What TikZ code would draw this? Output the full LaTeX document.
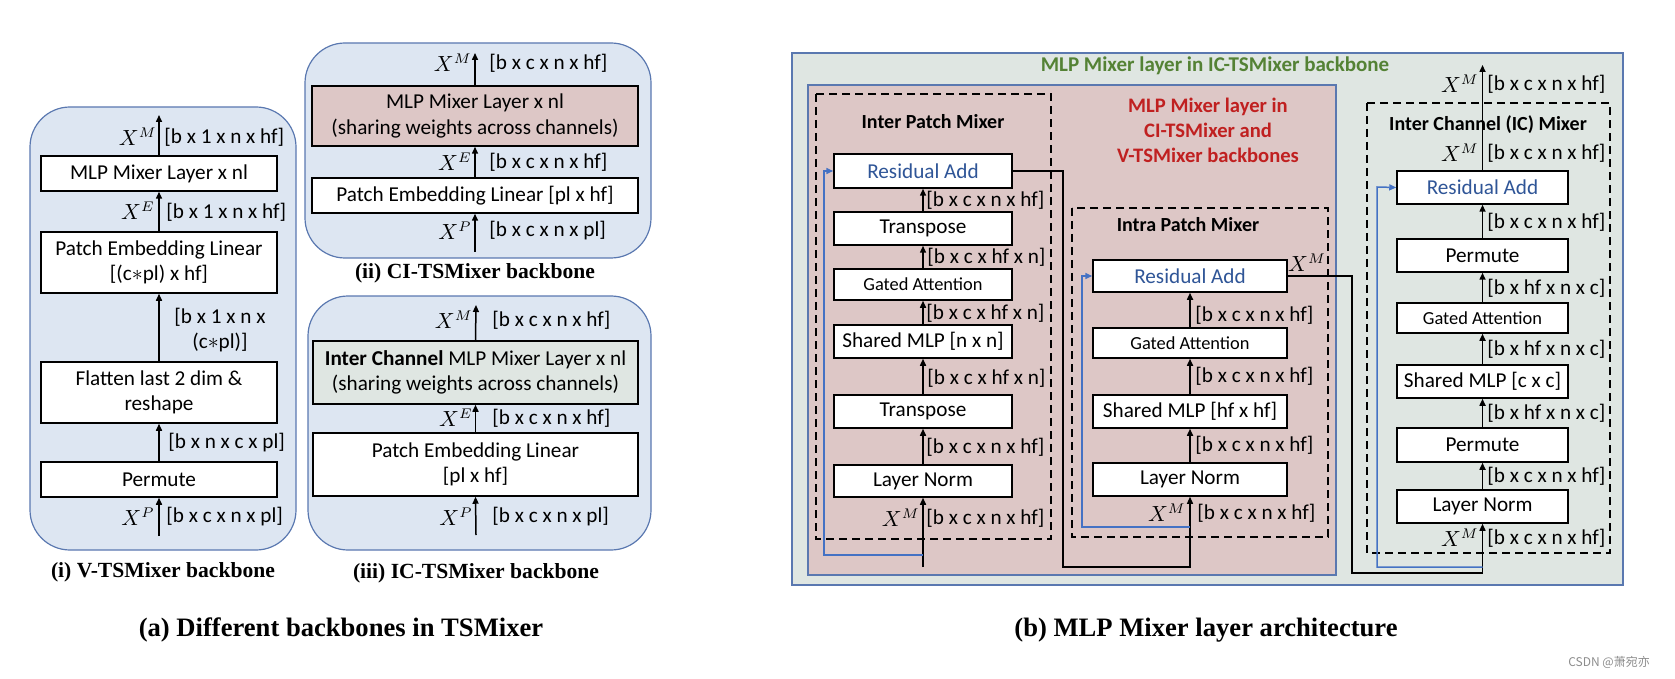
\documentclass[tikz,border=0pt]{standalone}
\usepackage{fontspec}
\setmainfont{Carlito}
\newfontfamily\capfont{Liberation Serif}
\newfontfamily\cjkfont{Noto Sans CJK SC}
\usetikzlibrary{arrows.meta,calc}
\definecolor{panelblue}{RGB}{221,230,242}
\definecolor{panelline}{RGB}{90,120,176}
\definecolor{pinkfill}{RGB}{221,199,198}
\definecolor{greenfill}{RGB}{223,230,226}
\definecolor{resblue}{RGB}{68,114,196}
\definecolor{restext}{RGB}{47,85,151}
\definecolor{redtext}{RGB}{192,32,32}
\definecolor{greentext}{RGB}{84,130,53}
\newcommand{\bx}[7][]{\node[box,#1,minimum width={(#5-#3)*0.5pt},minimum height={(#6-#4)*0.5pt}] (#2) at ({(#3+#5)/2},{(#4+#6)/2}) {#7};}
\begin{document}
\begin{tikzpicture}[x=0.5pt,y=-0.5pt,
  box/.style={draw=black,line width=0.75pt,fill=white,inner sep=0pt,align=center,font=\fontsize{10.6}{12.8}\selectfont},
  gsmall/.style={font=\fontsize{9.2}{11}\selectfont},
  lbl/.style={inner sep=0pt,font=\fontsize{10.6}{12.8}\selectfont},
  mlbl/.style={inner sep=0pt,font=\fontsize{10.6}{12.8}\selectfont},
  capstyle/.style={inner sep=0pt,font=\capfont\bfseries\fontsize{10.8}{13}\selectfont},
  bigcap/.style={inner sep=0pt,font=\capfont\bfseries\fontsize{13.3}{16}\selectfont},
  ttl/.style={inner sep=0pt,font=\bfseries\fontsize{10}{12}\selectfont},
  panel/.style={draw=panelline,line width=0.6pt,fill=panelblue,rounded corners=20pt},
  dashbox/.style={draw=black,line width=0.75pt,dash pattern=on 4pt off 2.5pt},
  arr/.style={line width=0.75pt,-{Triangle[length=3.5pt,width=3pt]}},
  resarr/.style={draw=resblue,line width=0.75pt,-{Triangle[length=3.5pt,width=3pt]}},
  link/.style={line width=0.65pt,-{Triangle[length=3.5pt,width=3pt]}}
]
\useasboundingbox (0,0) rectangle (1675,679);

% ---------------- (i) V-TSMixer ----------------
\draw[panel] (30,107) rectangle (296,550);
\bx{mlp1}{41}{156}{277}{191}{MLP Mixer Layer x nl}
\bx{pe1}{41}{232}{277}{293}{Patch Embedding Linear\\{}[(c$\ast$pl) x hf]}
\bx{flat1}{41}{362}{277}{423}{Flatten last 2 dim \&\\reshape}
\bx{perm1}{41}{462}{277}{497}{Permute}
\coordinate (out1) at (159,115);
\coordinate (in1) at (159,536);
\draw[arr] (mlp1.north) -- (out1);
\draw[arr] (pe1.north) -- (mlp1.south);
\draw[arr] (flat1.north) -- (pe1.south);
\draw[arr] (perm1.north) -- (flat1.south);
\draw[arr] (in1) -- (perm1.south);
\node[mlbl,anchor=east] (m1a) at (157,137) {$X^M$};
\node[lbl,anchor=west] (l1a) at (164,137) {[b x 1 x n x hf]};
\node[mlbl,anchor=east] (m1b) at (155,211) {$X^E$};
\node[lbl,anchor=west] (l1b) at (166,212) {[b x 1 x n x hf]};
\node[lbl,align=center] (l1c) at (220,330) {[b x 1 x n x\\(c$\ast$pl)]};
\node[lbl,anchor=west] (l1d) at (168,443) {[b x n x c x pl]};
\node[mlbl,anchor=east] (m1e) at (155,517) {$X^P$};
\node[lbl,anchor=west] (l1e) at (166,517) {[b x c x n x pl]};
\node[capstyle] (capi) at (163,572) {(i) V-TSMixer backbone};

% ---------------- (ii) CI-TSMixer ----------------
\draw[panel] (305,43) rectangle (651,258);
\bx[fill=pinkfill]{mlp2}{312}{86}{638}{146}{MLP Mixer Layer x nl\\(sharing weights across channels)}
\bx{pe2}{312}{178}{638}{213}{Patch Embedding Linear [pl x hf]}
\coordinate (out2) at (475,53);
\coordinate (in2) at (475,252);
\draw[arr] (mlp2.north) -- (out2);
\draw[arr] (pe2.north) -- (mlp2.south);
\draw[arr] (in2) -- (pe2.south);
\node[mlbl,anchor=east] (m2a) at (472,63) {$X^M$};
\node[lbl,anchor=west] (l2a) at (489,63) {[b x c x n x hf]};
\node[mlbl,anchor=east] (m2b) at (472,162) {$X^E$};
\node[lbl,anchor=west] (l2b) at (489,162) {[b x c x n x hf]};
\node[mlbl,anchor=east] (m2c) at (472,231) {$X^P$};
\node[lbl,anchor=west] (l2c) at (489,231) {[b x c x n x pl]};
\node[capstyle] (capii) at (475,273) {(ii) CI-TSMixer backbone};

% ---------------- (iii) IC-TSMixer ----------------
\draw[panel] (308,296) rectangle (651,550);
\bx[fill=greenfill]{ic3}{313}{341}{638}{404}{\textbf{Inter Channel} MLP Mixer Layer x nl\\(sharing weights across channels)}
\bx{pe3}{313}{433}{638}{496}{Patch Embedding Linear\\{}[pl x hf]}
\coordinate (out3) at (476,305);
\coordinate (in3) at (476,535);
\draw[arr] (ic3.north) -- (out3);
\draw[arr] (pe3.north) -- (ic3.south);
\draw[arr] (in3) -- (pe3.south);
\node[mlbl,anchor=east] (m3a) at (473,320) {$X^M$};
\node[lbl,anchor=west] (l3a) at (492,320) {[b x c x n x hf]};
\node[mlbl,anchor=east] (m3b) at (473,418) {$X^E$};
\node[lbl,anchor=west] (l3b) at (492,418) {[b x c x n x hf]};
\node[mlbl,anchor=east] (m3c) at (473,517) {$X^P$};
\node[lbl,anchor=west] (l3c) at (492,517) {[b x c x n x pl]};
\node[capstyle] (capiii) at (476,573) {(iii) IC-TSMixer backbone};

% ---------------- (b) MLP Mixer layer ----------------
\draw[draw=panelline,line width=0.6pt,fill=greenfill] (792,53) rectangle (1623,585);
\node[ttl,text=greentext,font=\bfseries\fontsize{10.5}{12}\selectfont] (tgreen) at (1215,66) {MLP Mixer layer in IC-TSMixer backbone};
\draw[draw=panelline,line width=0.6pt,fill=pinkfill] (808,85) rectangle (1336,575);
\node[ttl,text=redtext,align=center,font=\bfseries\fontsize{10.3}{12.5}\selectfont] (tred) at (1208,130) {MLP Mixer layer in\\CI-TSMixer and\\V-TSMixer backbones};

% Inter Patch Mixer
\draw[dashbox] (816,94) rectangle (1051,539);
\node[ttl] (tinter) at (933,122) {Inter Patch Mixer};
\bx[text=restext]{ra1}{834}{154}{1012}{188}{Residual Add}
\bx{tr1}{834}{212}{1012}{245}{Transpose}
\bx[gsmall]{ga1}{834}{269}{1012}{300}{Gated Attention}
\bx{sm1}{834}{325}{1012}{358}{Shared MLP [n x n]}
\bx{tr2}{834}{395}{1012}{428}{Transpose}
\bx{ln1}{834}{465}{1012}{497}{Layer Norm}
\draw[arr] (tr1.north) -- (ra1.south);
\draw[arr] (ga1.north) -- (tr1.south);
\draw[arr] (sm1.north) -- (ga1.south);
\draw[arr] (tr2.north) -- (sm1.south);
\draw[arr] (ln1.north) -- (tr2.south);
\coordinate (inA) at (923,567);
\coordinate (bA) at (923,555);
\coordinate (kA) at (824,171);
\draw[arr] (inA) -- (ln1.south);
\draw[resarr] (bA) -| (kA) -- (ra1.west);
\node[lbl,anchor=west] (lA1) at (926,200) {[b x c x n x hf]};
\node[lbl,anchor=west] (lA2) at (927,257) {[b x c x hf x n]};
\node[lbl,anchor=west] (lA3) at (926,313) {[b x c x hf x n]};
\node[lbl,anchor=west] (lA4) at (927,378) {[b x c x hf x n]};
\node[lbl,anchor=west] (lA5) at (926,447) {[b x c x n x hf]};
\node[mlbl,anchor=east] (mA6) at (920,518) {$X^M$};
\node[lbl,anchor=west] (lA6) at (926,518) {[b x c x n x hf]};

% Intra Patch Mixer
\draw[dashbox] (1072,208) rectangle (1328,537);
\node[ttl] (tintra) at (1188,225) {Intra Patch Mixer};
\bx[text=restext]{ra2}{1093}{260}{1287}{292}{Residual Add}
\bx[gsmall]{ga2}{1093}{328}{1287}{358}{Gated Attention}
\bx{sm2}{1093}{395}{1287}{428}{Shared MLP [hf x hf]}
\bx{ln2}{1093}{463}{1287}{496}{Layer Norm}
\draw[arr] (ga2.north) -- (ra2.south);
\draw[arr] (sm2.north) -- (ga2.south);
\draw[arr] (ln2.north) -- (sm2.south);
\coordinate (c1) at (1063,567);
\draw[link] (ra1.east) -| (c1) -| (ln2.south);
\coordinate (bB) at (1190,527);
\coordinate (kB) at (1082,276);
\draw[resarr] (bB) -| (kB) -- (ra2.west);
\node[mlbl] (mB0) at (1307,263) {$X^M$};
\node[lbl,anchor=west] (lB1) at (1195,315) {[b x c x n x hf]};
\node[lbl,anchor=west] (lB2) at (1195,376) {[b x c x n x hf]};
\node[lbl,anchor=west] (lB3) at (1195,445) {[b x c x n x hf]};
\node[mlbl,anchor=east] (mB4) at (1186,513) {$X^M$};
\node[lbl,anchor=west] (lB4) at (1197,513) {[b x c x n x hf]};

% Inter Channel Mixer
\draw[dashbox] (1367,103) rectangle (1610,553);
\node[ttl] (tic) at (1488,125) {Inter Channel (IC) Mixer};
\bx[text=restext]{ra3}{1397}{171}{1568}{204}{Residual Add}
\bx{pm3}{1397}{239}{1568}{272}{Permute}
\bx[gsmall]{ga3}{1397}{303}{1568}{333}{Gated Attention}
\bx{sm3}{1397}{365}{1568}{398}{Shared MLP [c x c]}
\bx{pm4}{1397}{428}{1568}{462}{Permute}
\bx{ln3}{1397}{490}{1568}{523}{Layer Norm}
\coordinate (outC) at (1482.5,65);
\draw[arr] (ra3.north) -- (outC);
\draw[arr] (pm3.north) -- (ra3.south);
\draw[arr] (ga3.north) -- (pm3.south);
\draw[arr] (sm3.north) -- (ga3.south);
\draw[arr] (pm4.north) -- (sm3.south);
\draw[arr] (ln3.north) -- (pm4.south);
\coordinate (c2) at (1352,573);
\draw[link] (ra2.east) -| (c2) -| (ln3.south);
\coordinate (bC) at (1482.5,567);
\coordinate (kC) at (1377,187);
\draw[resarr] (bC) -| (kC) -- (ra3.west);
\node[mlbl,anchor=east] (mC0) at (1479,84) {$X^M$};
\node[lbl,anchor=west] (lC0) at (1487,84) {[b x c x n x hf]};
\node[mlbl,anchor=east] (mC1) at (1479,153) {$X^M$};
\node[lbl,anchor=west] (lC1) at (1487,153) {[b x c x n x hf]};
\node[lbl,anchor=west] (lC2) at (1487,222) {[b x c x n x hf]};
\node[lbl,anchor=west] (lC3) at (1487,288) {[b x hf x n x c]};
\node[lbl,anchor=west] (lC4) at (1487,349) {[b x hf x n x c]};
\node[lbl,anchor=west] (lC5) at (1487,413) {[b x hf x n x c]};
\node[lbl,anchor=west] (lC6) at (1487,476) {[b x c x n x hf]};
\node[mlbl,anchor=east] (mC7) at (1479,538) {$X^M$};
\node[lbl,anchor=west] (lC7) at (1487,538) {[b x c x n x hf]};

% captions
\node[bigcap] (capa) at (341,630) {(a) Different backbones in TSMixer};
\node[bigcap] (capb) at (1206,630) {(b) MLP Mixer layer architecture};
\node[inner sep=0pt,text=black!45,font=\cjkfont\fontsize{6}{7}\selectfont] (wm) at (1609,662) {CSDN @萧宛亦};
\end{tikzpicture}
\end{document}
